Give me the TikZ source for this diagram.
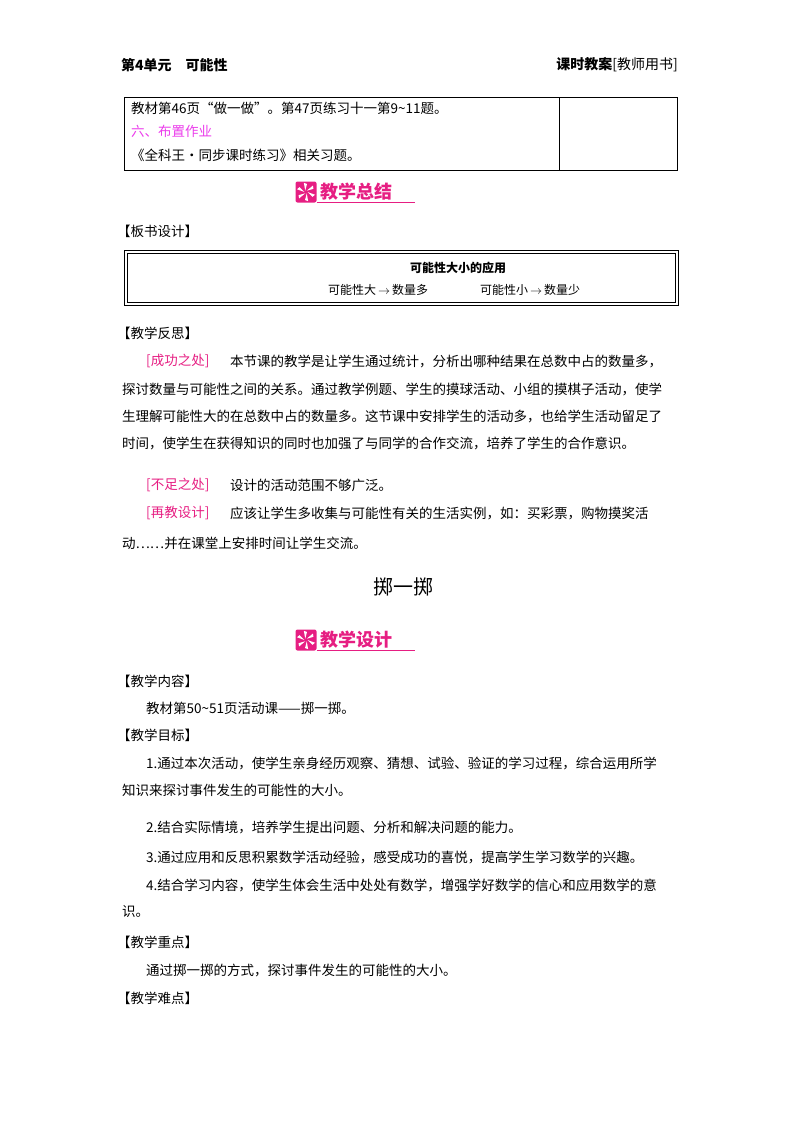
\documentclass[tikz,border=0pt]{standalone}
\usepackage{fontspec}
\setmainfont{Noto Sans CJK SC}
\definecolor{pinkc}{RGB}{230,30,130}
\definecolor{magc}{RGB}{235,60,235}
\begin{document}
\begin{tikzpicture}[x=1pt,y=-1pt,
  tx/.style={anchor=west,inner sep=0pt,font=\fontsize{13.5}{14}\selectfont},
  pk/.style={tx,text=pinkc},
  hd/.style={anchor=west,inner sep=0pt,font=\fontsize{14}{15}\selectfont\bfseries}]
\useasboundingbox (0,0) rectangle (800,1132);
% header
\node[hd] (h1) at (121,65) {第4单元\quad 可能性};
\node[anchor=east,inner sep=0pt,font=\fontsize{14}{15}\selectfont] (h2) at (678,65) {\textbf{课时教案}[教师用书]};
% table
\draw[line width=0.8pt] (124,97) rectangle (677,170);
\draw[line width=0.8pt] (559,97) -- (559,170);
\node[tx] (t1) at (131,108) {教材第46页“做一做”。第47页练习十一第9\textasciitilde 11题。};
\node[tx,text=magc] (t2) at (131,131) {六、布置作业};
\node[tx] (t3) at (131,155) {《全科王·同步课时练习》相关习题。};
% banner macro
\newcommand{\mybanner}[3]{%
  \node[fill=pinkc,rounded corners=2pt,minimum width=21pt,minimum height=21pt,inner sep=0pt] (#3) at (#1) {};
  \foreach \a in {0,60,...,300}{\fill[white] (#3.center) ++(\a:1.5) -- ++(\a+20:8) arc[start angle=\a+20,end angle=\a+80,radius=3.3] -- cycle;}
  \node[anchor=west,inner sep=0pt,text=pinkc,font=\fontsize{18}{19}\selectfont\bfseries] (#3t) at ([xshift=4pt]#3.east) {#2};
  \draw[pinkc,line width=0.8pt] (#3.south east) -- ++(98,0);
}
\mybanner{306,192}{教学总结}{b1}
\node[tx] (k1) at (117,231) {【板书设计】};
\draw[line width=0.6pt] (124,250) rectangle (678,305);
\draw[line width=0.6pt] (127,253) rectangle (675,302);
\node[inner sep=0pt,font=\fontsize{12}{13}\selectfont\bfseries] (bt) at (458,268) {可能性大小的应用};
\node[anchor=west,inner sep=0pt,font=\fontsize{12}{13}\selectfont] (bl) at (328,290) {可能性大\,$\rightarrow$\,数量多};
\node[anchor=west,inner sep=0pt,font=\fontsize{12}{13}\selectfont] (br) at (480,290) {可能性小\,$\rightarrow$\,数量少};
\node[tx] (k2) at (117,333) {【教学反思】};
\node[pk] (r1a) at (146,361) {[成功之处]};
\node[tx] (r1) at (230,361) {本节课的教学是让学生通过统计，分析出哪种结果在总数中占的数量多，};
\node[tx] (r2) at (122,389) {探讨数量与可能性之间的关系。通过教学例题、学生的摸球活动、小组的摸棋子活动，使学};
\node[tx] (r3) at (122,416) {生理解可能性大的在总数中占的数量多。这节课中安排学生的活动多，也给学生活动留足了};
\node[tx] (r4) at (122,443) {时间，使学生在获得知识的同时也加强了与同学的合作交流，培养了学生的合作意识。};
\node[pk] (r5a) at (146,485) {[不足之处]};
\node[tx] (r5) at (230,485) {设计的活动范围不够广泛。};
\node[pk] (r6a) at (146,513) {[再教设计]};
\node[tx] (r6) at (230,513) {应该让学生多收集与可能性有关的生活实例，如：买彩票，购物摸奖活};
\node[tx] (r7) at (122,543) {动……并在课堂上安排时间让学生交流。};
\node[inner sep=0pt,font=\fontsize{20}{21}\selectfont] (ti) at (403,587) {掷一掷};
\mybanner{306,640}{教学设计}{b2}
\node[tx] (c1) at (117,681) {【教学内容】};
\node[tx] (c2) at (146,708) {教材第50\textasciitilde 51页活动课——掷一掷。};
\node[tx] (c3) at (117,735) {【教学目标】};
\node[tx] (c4) at (146,763) {1.通过本次活动，使学生亲身经历观察、猜想、试验、验证的学习过程，综合运用所学};
\node[tx] (c5) at (122,790) {知识来探讨事件发生的可能性的大小。};
\node[tx] (c6) at (146,827) {2.结合实际情境，培养学生提出问题、分析和解决问题的能力。};
\node[tx] (c7) at (146,857) {3.通过应用和反思积累数学活动经验，感受成功的喜悦，提高学生学习数学的兴趣。};
\node[tx] (c8) at (146,885) {4.结合学习内容，使学生体会生活中处处有数学，增强学好数学的信心和应用数学的意};
\node[tx] (c9) at (122,912) {识。};
\node[tx] (c10) at (117,942) {【教学重点】};
\node[tx] (c11) at (146,970) {通过掷一掷的方式，探讨事件发生的可能性的大小。};
\node[tx] (c12) at (117,998) {【教学难点】};
\end{tikzpicture}
\end{document}
